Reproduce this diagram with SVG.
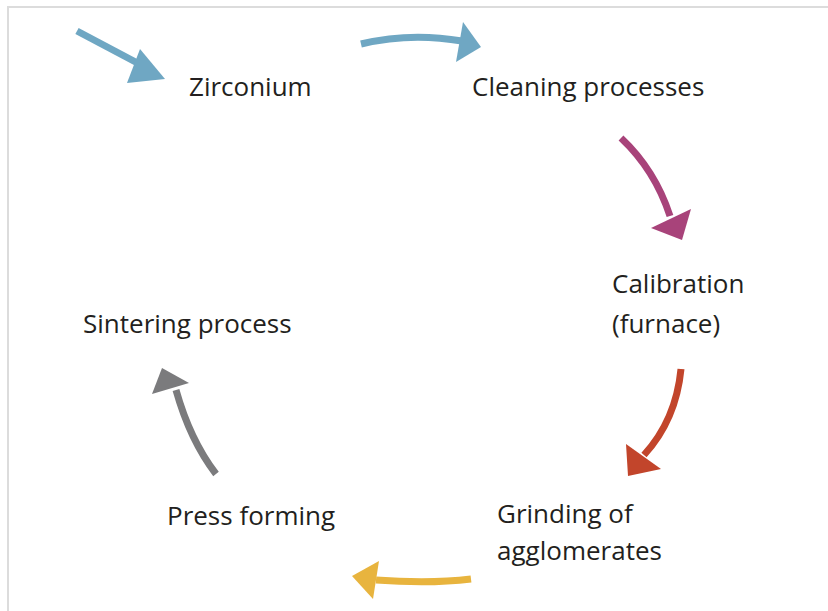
<svg xmlns="http://www.w3.org/2000/svg" width="828" height="611" viewBox="0 0 828 611">
<style>
.lbl{font-family:"Open Sans","Liberation Sans",sans-serif;font-size:26px;fill:#231f20}
.shaft{fill:none;stroke-width:7;stroke-linecap:butt}
</style>
<rect x="0" y="0" width="828" height="611" fill="#fff"/>
<path d="M8,611 V7 H828" fill="none" stroke="#dcdcdc" stroke-width="2"/>
<g id="connectors">
<g id="a1"><path class="shaft" stroke="#6fa7c3" d="M77,31 L145,67"/><polygon fill="#6fa7c3" points="165,79 127,83 140,49"/></g>
<g id="a2"><path class="shaft" stroke="#6fa7c3" d="M361,44 Q410,32 462,41"/><polygon fill="#6fa7c3" points="481,47 456,62 463,22"/></g>
<g id="a3"><path class="shaft" stroke="#a8437a" d="M621,138 Q655,170 670,216"/><polygon fill="#a8437a" points="682,240 651,228 691,209"/></g>
<g id="a4"><path class="shaft" stroke="#c2452b" d="M681,369 Q676,420 644,455"/><polygon fill="#c2452b" points="628,476 626,444 661,469"/></g>
<g id="a5"><path class="shaft" stroke="#e8b43e" d="M471,579 Q430,584 376,580"/><polygon fill="#e8b43e" points="352,576 379,561 373,599"/></g>
<g id="a6"><path class="shaft" stroke="#7b7b7d" d="M216,474 Q190,440 176,390"/><polygon fill="#7b7b7d" points="162,368 152,394 189,383"/></g>
</g>
<g id="zirconium"><text class="lbl" x="189" y="96">Zirconium</text></g>
<g id="cleaning"><text class="lbl" x="472" y="96">Cleaning processes</text></g>
<g id="calibration"><text class="lbl" x="612" y="293">Calibration</text><text class="lbl" x="612" y="333">(furnace)</text></g>
<g id="sintering"><text class="lbl" x="83" y="333">Sintering process</text></g>
<g id="press"><text class="lbl" x="167" y="525">Press forming</text></g>
<g id="grinding"><text class="lbl" x="497" y="523">Grinding of</text><text class="lbl" x="497" y="560">agglomerates</text></g>
</svg>
